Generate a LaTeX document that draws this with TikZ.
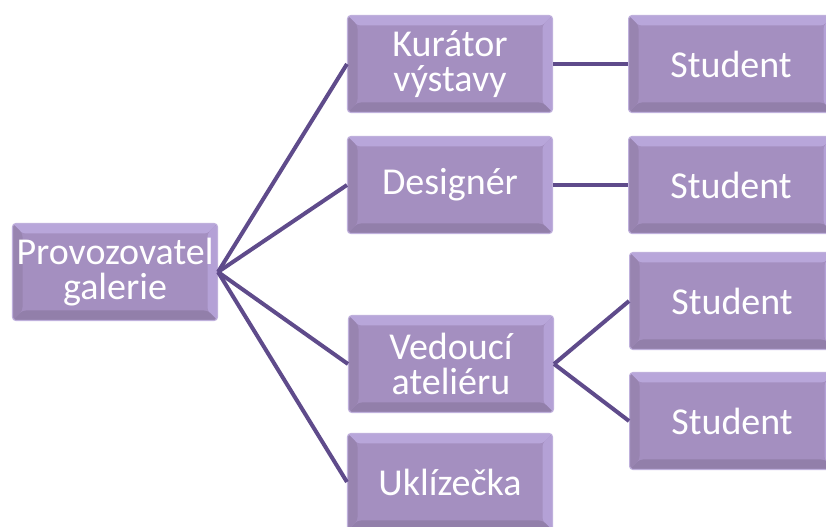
\documentclass[tikz,border=0pt]{standalone}
\usepackage{fontspec}
\setmainfont{Carlito}
\usetikzlibrary{positioning}

\definecolor{boxface}{HTML}{A48FC0}
\definecolor{boxrim}{HTML}{BFB0DC}
\definecolor{bevtop}{HTML}{B8A6DA}
\definecolor{bevright}{HTML}{B4A1D6}
\definecolor{bevbottom}{HTML}{927FAA}
\definecolor{bevleft}{HTML}{9884B0}
\definecolor{linkcol}{HTML}{5F4B8B}

\begin{document}
\begin{tikzpicture}[
x=0.75pt,y=-0.75pt,
role/.style={
  rectangle,
  rounded corners=2.5pt,
  fill=boxface,
  draw=boxrim,
  line width=0.8pt,
  minimum width=153.75pt,
  minimum height=72.75pt,
  inner sep=0pt,
  text=white,
  align=center,
  font=\fontsize{28.5}{26}\selectfont,
  path picture={
    \coordinate (nw) at (path picture bounding box.north west);
    \coordinate (ne) at (path picture bounding box.north east);
    \coordinate (se) at (path picture bounding box.south east);
    \coordinate (sw) at (path picture bounding box.south west);
    \fill[bevtop] (nw) -- (ne) -- ([shift={(-7.5pt,-7.5pt)}]ne)
      -- ([shift={(7.5pt,-7.5pt)}]nw) -- cycle;
    \fill[bevright] (ne) -- (se) -- ([shift={(-7.5pt,7.5pt)}]se)
      -- ([shift={(-7.5pt,-7.5pt)}]ne) -- cycle;
    \fill[bevbottom] (se) -- (sw) -- ([shift={(7.5pt,7.5pt)}]sw)
      -- ([shift={(-7.5pt,7.5pt)}]se) -- cycle;
    \fill[bevleft] (sw) -- (nw) -- ([shift={(7.5pt,-7.5pt)}]nw)
      -- ([shift={(7.5pt,7.5pt)}]sw) -- cycle;
  }},
link/.style={
  draw=linkcol,
  line width=3pt}
]
\useasboundingbox (0,0) rectangle (826,527);
% first level
\node[role] (prov) at (115,272) {Provozovatel\\galerie};
\node[role] (kur) at (450,64) {Kurátor\\výstavy};
\node[role] (des) at (450,185) {Designér};
\node[role] (ved) at (451,364) {Vedoucí\\ateliéru};
\node[role] (ukl) at (450,482) {Uklízečka};
% students
\node[role, right=56.25pt of kur] (stA) {Student};
\node[role, right=56.25pt of des] (stB) {Student};
\node[role, right=56.25pt of ved, yshift=47.25pt] (stC) {Student};
\node[role, right=56.25pt of ved, yshift=-42.75pt] (stD) {Student};
% connectors
\foreach \Kid in {kur,des,ved,ukl}
  \draw[link] (prov.east) -- (\Kid.west);
\draw[link] (kur.east) -- (stA.west);
\draw[link] (des.east) -- (stB.west);
\draw[link] (ved.east) -- (stC.west);
\draw[link] (ved.east) -- (stD.west);
\end{tikzpicture}
\end{document}
